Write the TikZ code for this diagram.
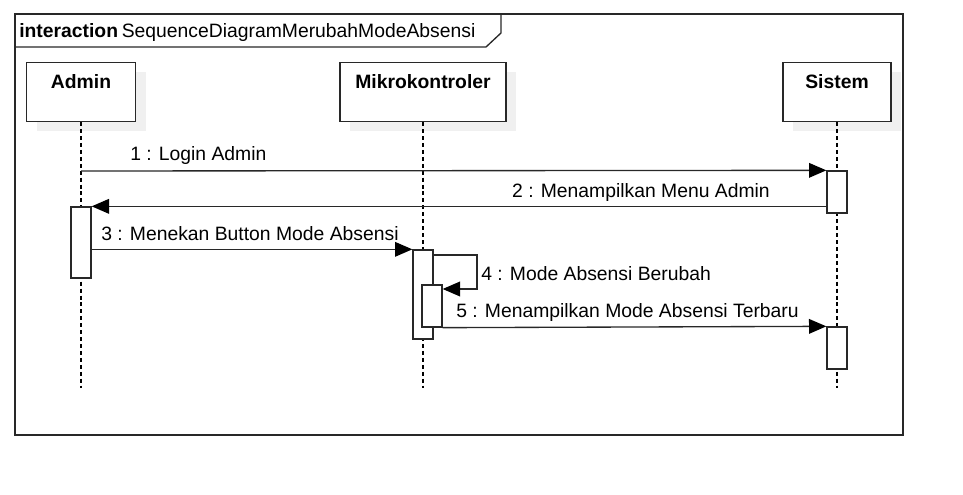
\documentclass[tikz,border=0pt]{standalone}
\usepackage{fontspec}
\setmainfont{Liberation Sans}
\usetikzlibrary{arrows.meta,calc}
\definecolor{lc}{RGB}{40,40,40}
\definecolor{shadowc}{RGB}{240,240,240}
\begin{document}
\begin{tikzpicture}[x=0.75pt,y=-0.75pt,
  lbl/.style={inner sep=0pt,font=\fontsize{14.5}{17}\selectfont,text=black},
  headlbl/.style={inner sep=0pt,font=\fontsize{14.5}{17}\selectfont\bfseries,text=black},
  headbox/.style={draw=lc,fill=white,line width=1pt,minimum height=44.25pt,inner sep=0pt},
  shadowbox/.style={fill=shadowc,draw=none,minimum height=44.25pt,inner sep=0pt},
  actbox/.style={draw=lc,fill=white,line width=1pt,minimum width=15pt,inner sep=0pt},
  lifeline/.style={draw=black,line width=1pt,dash pattern=on 3pt off 2.2pt},
  msg/.style={draw=lc,line width=1pt,-{Triangle[length=13pt,width=11pt,color=black]}},
  msgline/.style={draw=lc,line width=1pt}]
\useasboundingbox (0,0) rectangle (963,495);
% frame
\draw[draw=lc,line width=1pt] (15,14) rectangle (903,435);
\draw[draw=lc,line width=1pt] (15,47) -- (486,47) -- (501,33) -- (501,14);
\node[anchor=base west,headlbl] (ftitle) at (19,38) {interaction};
\node[anchor=base west,lbl] (fname) at (ftitle.base east) {\,SequenceDiagramMerubahModeAbsensi};
% shadows
\node[shadowbox,minimum width=81.75pt] (ashadow) at (91,102) {};
\node[shadowbox,minimum width=124.5pt] (mshadow) at (433,102) {};
\node[shadowbox,minimum width=81pt] (sshadow) at (847,102) {};
% heads
\node[headbox,minimum width=81.75pt] (admin) at (81,92) {};
\node[headbox,minimum width=124.5pt] (mikro) at (423,92) {};
\node[headbox,minimum width=81pt] (sistem) at (837,92) {};
\node[headlbl,anchor=base] (adminl) at (81,89) {Admin};
\node[headlbl,anchor=base] (mikrol) at (423,89) {Mikrokontroler};
\node[headlbl,anchor=base] (sisteml) at (837,89) {Sistem};
% lifelines
\coordinate (aend) at (81,388);
\coordinate (mend) at (423,388);
\coordinate (send) at (837,388);
\draw[lifeline] (admin.south) -- (aend);
\draw[lifeline] (mikro.south) -- (mend);
\draw[lifeline] (sistem.south) -- (send);
% activations
\node[actbox,minimum height=53.25pt] (aact) at (81,242.5) {};
\node[actbox,minimum height=66.75pt] (m1) at (423,294.5) {};
\node[actbox,minimum height=31.5pt] (m2) at (432,306) {};
\node[actbox,minimum height=31.5pt] (s1) at (837,192) {};
\node[actbox,minimum height=31.5pt] (s2) at (837,348) {};
% messages
\coordinate (m1s) at (81,171);
\draw[msg] (m1s) -- (s1.north west);
\node[lbl,anchor=base west] (l1) at (130,161) {1 : Login Admin};
\draw[msg] (s1.west |- aact.north) -- (aact.north east);
\node[lbl,anchor=base east] (l2) at (770,198) {2 : Menampilkan Menu Admin};
\draw[msg] (aact.east |- m1.north) -- (m1.north west);
\node[lbl,anchor=base west] (l3) at (101,241) {3 : Menekan Button Mode Absensi};
\coordinate (self1) at (477,255);
\coordinate (self2) at (477,289);
\draw[msg] (m1.east |- self1) -- (self1) -- (self2) -- (m2.east |- self2);
\node[lbl,anchor=base west] (l4) at (481,281) {4 : Mode Absensi Berubah};
\draw[msg] (m2.south east) -- (s2.north west);
\node[lbl,anchor=base west] (l5) at (456,317) {5 : Menampilkan Mode Absensi Terbaru};
\end{tikzpicture}
\end{document}
